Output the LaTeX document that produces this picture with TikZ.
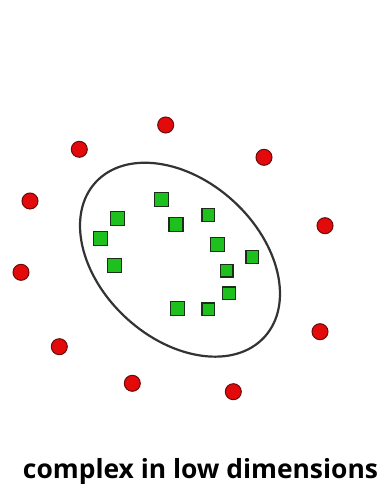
\documentclass[tikz,border=0pt]{standalone}
\usepackage{fontspec}
\setmainfont{Open Sans}
\usetikzlibrary{shapes.geometric}
\definecolor{dotred}{HTML}{E20A0A}
\definecolor{dotedge}{HTML}{6A0A0A}
\definecolor{sqgreen}{HTML}{1EC01E}
\definecolor{sqedge}{HTML}{1A2E1A}
\definecolor{ringgray}{HTML}{333333}
\tikzset{
  reddot/.style={circle, fill=dotred, draw=dotedge, line width=1pt, minimum size=16pt, inner sep=0pt},
  bigsq/.style={rectangle, fill=sqgreen, draw=sqedge, line width=1.4pt, minimum size=14pt, inner sep=0pt},
  smallsq/.style={rectangle, fill=sqgreen, draw=sqedge, line width=1.4pt, minimum size=12.5pt, inner sep=0pt},
  ring/.style={ellipse, draw=ringgray, line width=2.2pt, minimum width=229pt, minimum height=158.6pt, inner sep=0pt, rotate=-42.5},
  caption/.style={font=\bfseries\fontsize{26.4}{30}\selectfont, anchor=base, inner sep=0pt}
}
\begin{document}
\begin{tikzpicture}[x=1pt,y=-1pt]
\useasboundingbox (0,0) rectangle (382,484);
\fill[white] (0,0) rectangle (382,484);
% ellipse
\node[ring] (blob) at (180,259.7) {};
% red dots
\node[reddot] (r1) at (165.7,125) {};
\node[reddot] (r2) at (79.3,149.3) {};
\node[reddot] (r3) at (264,157.3) {};
\node[reddot] (r4) at (30,201) {};
\node[reddot] (r5) at (325,225.7) {};
\node[reddot] (r6) at (21,272.3) {};
\node[reddot] (r7) at (320,331.7) {};
\node[reddot] (r8) at (59.3,346.7) {};
\node[reddot] (r9) at (132.3,383.3) {};
\node[reddot] (r10) at (233.3,391.7) {};
% green squares
\node[bigsq] (g1) at (161.7,199.3) {};
\node[bigsq] (g2) at (117.7,218.3) {};
\node[bigsq] (g3) at (176,224.3) {};
\node[smallsq] (g4) at (208.3,215) {};
\node[bigsq] (g5) at (100.7,238.3) {};
\node[bigsq] (g6) at (217.7,244.3) {};
\node[smallsq] (g7) at (252.3,257) {};
\node[bigsq] (g8) at (114.7,265.7) {};
\node[smallsq] (g9) at (226.7,270.7) {};
\node[smallsq] (g10) at (229,293.3) {};
\node[bigsq] (g11) at (177.7,308.7) {};
\node[smallsq] (g12) at (208.3,309.3) {};
% caption
\node[caption] (cap) at (200.5,478.5) {complex in low dimensions};
\end{tikzpicture}
\end{document}
